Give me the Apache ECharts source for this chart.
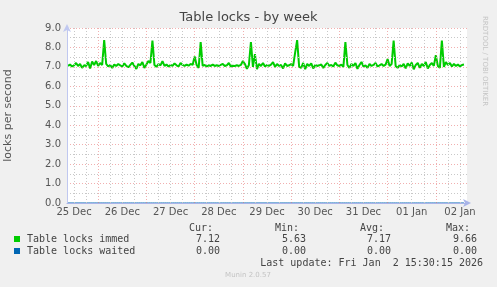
<!DOCTYPE html>
<html><head><meta charset="utf-8">
<script src="https://cdn.jsdelivr.net/npm/echarts@6/dist/echarts.min.js"></script>
<style>html,body{margin:0;padding:0;background:#f0f0f0}#c{width:497px;height:287px}</style>
</head><body><div id="c"></div>
<script>
// Hours since 25 Dec 00:00, one sample per hour starting at hour 9
const startHour = 9;
const immedValues = [
 7.05,7.12,7.02,7.08,7.20,7.05,7.15,6.95,7.08,7.05,7.25,6.92,7.28,7.10,7.30,
 7.05,7.20,7.10,8.38,7.15,7.02,7.10,6.95,7.12,7.05,7.15,7.08,7.02,7.18,7.05,6.98,7.10,7.22,7.05,6.90,7.15,7.08,7.25,6.95,
 7.12,7.30,7.20,8.35,7.10,7.00,7.15,7.08,7.30,7.05,7.12,7.02,7.10,7.05,7.18,7.08,7.02,7.20,7.10,7.05,7.12,7.06,7.15,7.10,
 7.53,7.10,6.95,8.28,7.05,7.10,7.02,7.08,7.05,7.12,7.05,7.08,7.05,7.10,7.15,7.05,7.08,7.20,7.02,7.06,7.05,7.08,7.05,7.10,
 7.30,7.15,6.90,7.10,8.28,7.00,7.66,6.88,7.15,7.05,7.20,7.02,7.10,7.05,7.12,7.25,7.00,7.15,7.05,7.10,6.92,7.18,7.05,7.08,
 7.15,7.05,7.73,8.38,7.00,6.95,7.20,6.88,7.15,7.05,7.18,6.92,7.10,7.05,7.08,7.12,6.95,7.10,7.20,7.05,7.10,7.02,7.22,7.08,
 7.05,7.12,7.00,8.28,7.10,6.95,7.15,7.05,7.20,6.90,7.10,7.25,7.02,7.08,6.95,7.15,7.05,7.10,7.20,7.02,7.08,7.15,7.05,7.12,
 7.40,7.05,7.15,8.35,7.05,6.95,7.10,7.02,7.15,6.92,7.18,7.05,7.22,6.88,7.10,7.20,6.95,7.15,7.05,7.25,6.92,7.10,7.20,7.05,
 7.60,7.05,6.95,8.35,7.00,7.25,7.10,7.20,7.02,7.15,7.05,7.12,7.02,7.10,7.12
];
const waitedValues = immedValues.map(() => 0);
const dayLabels = ['25 Dec','26 Dec','27 Dec','28 Dec','29 Dec','30 Dec','31 Dec','01 Jan','02 Jan'];
const labelHours = [12,36,60,84,108,132,156,180,204];
const legendNames = ['Table locks immed','Table locks waited'];
const statHeads = ['Cur:','Min:','Avg:','Max:'];
const statsImmed = ['7.12','5.63','7.17','9.66'];
const statsWaited = ['0.00','0.00','0.00','0.00'];
const colors = ['#00cc00','#0066b3'];

const xMin = 8.5, xMax = 207.5;
const immedData = immedValues.map((v,i)=>[startHour+i, v]);
const waitedData = waitedValues.map((v,i)=>[startHour+i, v]);

const gridLines = [];
for (let h = 12; h <= 204; h += 6) {
  if (h % 24 === 0) {
    gridLines.push({xAxis: h, lineStyle: {color: 'rgba(230,110,110,0.55)', type: [1,2], width: 1}});
  } else {
    gridLines.push({xAxis: h, lineStyle: {color: '#c8c8c8', type: [1,2], width: 1}});
  }
}

const mono = 'DejaVu Sans Mono';
const g = [];
g.push({type:'text', left:'center', top:11, style:{text:'Table locks - by week', font:'13px "DejaVu Sans"', fill:'#444'}});
g.push({type:'text', x:488, y:16, rotation:-Math.PI/2, style:{text:'RRDTOOL / TOBI OETIKER', font:'7px "DejaVu Sans"', fill:'#c4c4c4'}});
const colX = [213,299,384,470];
statHeads.forEach((t,i)=>g.push({type:'text', x:colX[i], y:223, style:{text:t, font:'10px "'+mono+'"', fill:'#444', align:'right'}}));
const valX = [220,306,391,477];
[statsImmed, statsWaited].forEach((row,r)=>{
  const y = 234 + r*12;
  g.push({type:'rect', shape:{x:14,y:y+2,width:6,height:6}, style:{fill:colors[r]}});
  g.push({type:'text', x:27, y:y, style:{text:legendNames[r], font:'10px "'+mono+'"', fill:'#444'}});
  row.forEach((v,i)=>g.push({type:'text', x:valX[i], y:y, style:{text:v, font:'10px "'+mono+'"', fill:'#444', align:'right'}}));
});
g.push({type:'text', x:483, y:258, style:{text:'Last update: Fri Jan  2 15:30:15 2026', font:'10px "'+mono+'"', fill:'#444', align:'right'}});
g.push({type:'text', x:248, y:272, style:{text:'Munin 2.0.57', font:'7px "DejaVu Sans"', fill:'#c4c4c4', align:'center'}});

const chart = echarts.init(document.getElementById('c'), null, {renderer:'canvas'});
chart.setOption({
  animation:false,
  backgroundColor:'#f0f0f0',
  grid:{left:67, right:30, top:28, bottom:84, show:true, backgroundColor:'#ffffff', borderWidth:0, containLabel:false, outerBoundsMode:'none'},
  xAxis:{type:'value', min:xMin, max:xMax, z:5,
    axisLine:{show:true, lineStyle:{color:'#a9b4e8', width:1}, symbol:['none','arrow'], symbolSize:[6,8], symbolOffset:[0,4]},
    axisTick:{show:false}, splitLine:{show:false},
    axisLabel:{customValues:labelHours, formatter:(v)=>dayLabels[labelHours.indexOf(v)], color:'#555', fontSize:10, fontFamily:'DejaVu Sans', margin:4}
  },
  yAxis:{type:'value', min:0, max:9, interval:1, z:5,
    name:'locks per second', nameLocation:'middle', nameGap:53, nameTextStyle:{color:'#555', fontSize:11, fontFamily:'DejaVu Sans'},
    axisLine:{show:true, lineStyle:{color:'#c0c8f0', width:1}, symbol:['none','arrow'], symbolSize:[6,8], symbolOffset:[0,4]},
    axisTick:{show:false},
    axisLabel:{formatter:(v)=>v.toFixed(1), color:'#555', fontSize:10, fontFamily:'DejaVu Sans', margin:6},
    splitLine:{show:true, lineStyle:{color:'rgba(230,110,110,0.55)', type:[1,2]}},
    minorTick:{show:false, splitNumber:2},
    minorSplitLine:{show:true, lineStyle:{color:'#c8c8c8', type:[1,2]}}
  },
  series:[
    {name:legendNames[1], type:'line', data:waitedData, showSymbol:false, z:1,
     lineStyle:{color:colors[1], width:1},
     markLine:{silent:true, symbol:['none','none'], label:{show:false}, animation:false, data:gridLines}},
    {name:legendNames[0], type:'line', data:immedData, showSymbol:false, z:3,
     lineStyle:{color:colors[0], width:2}}
  ],
  graphic:g
});
</script></body></html>
